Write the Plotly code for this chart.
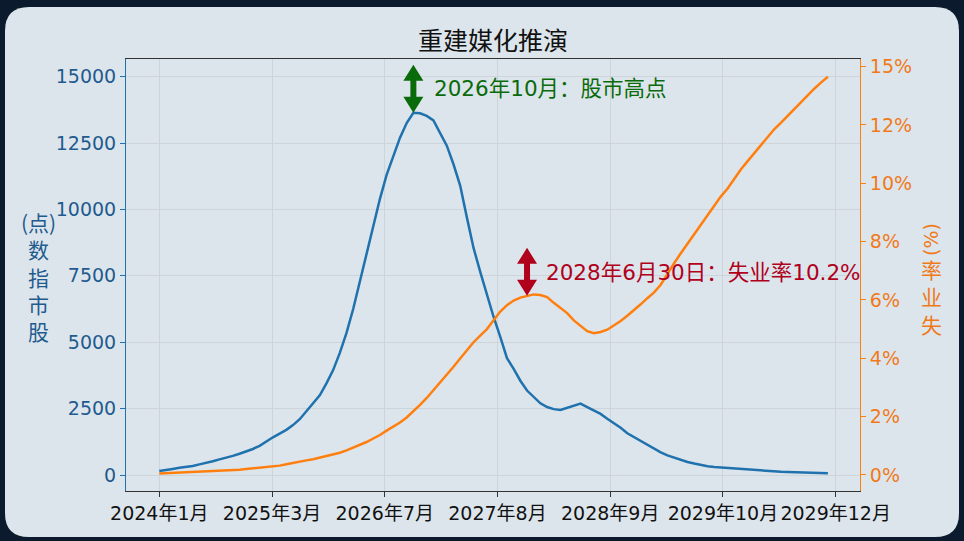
import plotly.graph_objects as go

# ---------------- data ----------------
stock_index = [150, 180, 230, 270, 300, 340, 400, 450, 520, 590,
               650, 720, 800, 890, 980, 1100, 1270, 1420, 1560, 1700,
               1880, 2100, 2400, 2700, 3000, 3450, 3950, 4600, 5350, 6250,
               7300, 8300, 9300, 10400, 11300, 12000, 12700, 13250, 13640, 13620,
               13520, 13350, 12900, 12400, 11700, 10900, 9700, 8550, 7650, 6800,
               5950, 5200, 4400, 4000, 3550, 3180, 2930, 2700, 2560, 2480,
               2450, 2530, 2620, 2690, 2560, 2440, 2300, 2120, 1960, 1780,
               1570, 1420, 1270, 1130, 1000, 850, 740, 650, 560, 490,
               430, 370, 330, 300, 280, 260, 240, 220, 200, 180,
               165, 150, 130, 120, 110, 100, 90, 85, 80, 70, 64]

unemployment = [0.05, 0.06, 0.07, 0.08, 0.08, 0.09, 0.10, 0.11, 0.12, 0.13,
                0.15, 0.17, 0.18, 0.20, 0.22, 0.24, 0.26, 0.28, 0.32, 0.37,
                0.42, 0.46, 0.50, 0.54, 0.59, 0.64, 0.69, 0.76, 0.84, 0.93,
                1.02, 1.13, 1.25, 1.37, 1.52, 1.66, 1.80, 1.97, 2.18, 2.40,
                2.64, 2.90, 3.17, 3.44, 3.71, 3.99, 4.28, 4.55, 4.78, 5.00,
                5.30, 5.60, 5.82, 5.98, 6.08, 6.14, 6.19, 6.17, 6.10, 5.90,
                5.74, 5.55, 5.30, 5.10, 4.93, 4.86, 4.90, 4.98, 5.12, 5.28,
                5.46, 5.64, 5.85, 6.06, 6.26, 6.52, 6.90, 7.26, 7.60, 7.92,
                8.23, 8.55, 8.87, 9.20, 9.55, 9.82, 10.17, 10.48, 10.76, 11.03,
                11.31, 11.58, 11.86, 12.08, 12.32, 12.55, 12.78, 13.02, 13.25, 13.46, 13.65]

period = list(range(len(stock_index)))

x_tick_labels = ["2024年1月", "2025年3月", "2026年7月", "2027年8月",
                 "2028年9月", "2029年10月", "2029年12月"]
x_tick_step = 16.86
x_tick_vals = [k * x_tick_step for k in range(len(x_tick_labels))]

y_left_ticks = [0, 2500, 5000, 7500, 10000, 12500, 15000]
y_left_labels = ["0", "2500", "5000", "7500", "10000", "12500", "15000"]
y_right_ticks = [0, 2, 4, 6, 8, 10, 12, 14]
y_right_labels = ["0%", "2%", "4%", "6%", "8%", "10%", "12%", "15%"]

title_text = "重建媒化推演"
peak_text = "2026年10月：股市高点"
unemp_text = "2028年6月30日：失业率10.2%"
unemp_idx = 55
peak_idx = max(period, key=lambda i: stock_index[i])

# ---------------- styling ----------------
W, H = 964, 541
ML, MR, MT, MB = 126, 104, 59, 50
PW, PH = W - ML - MR, H - MT - MB

BLUE = "#1f72ad"
BLUE_TXT = "#1f5b8e"
ORANGE = "#ff7f0e"
ORANGE_TXT = "#f07a1a"
GRID = "#cdd4da"
GREEN = "#0a6b0a"
RED = "#b0001c"
TICKFONT = "DejaVu Sans, Noto Sans CJK SC, sans-serif"


def px2paper_x(px):
    return (px - ML) / PW


def px2paper_y(py):
    return (H - MB - py) / PH


def rounded_panel(x0, y0, x1, y1, r):
    X = px2paper_x
    Y = px2paper_y
    p = (f"M {X(x0 + r)},{Y(y0)} L {X(x1 - r)},{Y(y0)} "
         f"Q {X(x1)},{Y(y0)} {X(x1)},{Y(y0 + r)} L {X(x1)},{Y(y1 - r)} "
         f"Q {X(x1)},{Y(y1)} {X(x1 - r)},{Y(y1)} L {X(x0 + r)},{Y(y1)} "
         f"Q {X(x0)},{Y(y1)} {X(x0)},{Y(y1 - r)} L {X(x0)},{Y(y0 + r)} "
         f"Q {X(x0)},{Y(y0)} {X(x0 + r)},{Y(y0)} Z")
    return p


ARROW_PATH = ("M 0,0 L -10,16 L -3,16 L -3,32 L -10,32 L 0,48 "
              "L 10,32 L 3,32 L 3,16 L 10,16 Z")

fig = go.Figure()
fig.add_trace(go.Scatter(x=period, y=stock_index, mode="lines",
                         line=dict(color=BLUE, width=2.5), yaxis="y",
                         showlegend=False))
fig.add_trace(go.Scatter(x=period, y=unemployment, mode="lines",
                         line=dict(color=ORANGE, width=2.5), yaxis="y2",
                         showlegend=False))

shapes = [
    dict(type="path", xref="paper", yref="paper", layer="below",
         path=rounded_panel(5, 7, 959, 537, 24),
         fillcolor="#dde5ec", line=dict(width=0)),
    dict(type="path", xref="x", yref="y", xsizemode="pixel", ysizemode="pixel",
         xanchor=period[peak_idx], yanchor=stock_index[peak_idx],
         path=ARROW_PATH, fillcolor=GREEN, line=dict(width=0)),
    dict(type="path", xref="x", yref="y2", xsizemode="pixel", ysizemode="pixel",
         xanchor=period[unemp_idx], yanchor=unemployment[unemp_idx],
         path=ARROW_PATH, fillcolor=RED, line=dict(width=0)),
]

annotations = [
    dict(x=period[peak_idx], y=stock_index[peak_idx], xref="x", yref="y",
         text=peak_text, showarrow=False, xanchor="left", yanchor="middle",
         xshift=19, yshift=24,
         font=dict(family=TICKFONT, size=21.5, color=GREEN)),
    dict(x=period[unemp_idx], y=unemployment[unemp_idx], xref="x", yref="y2",
         text=unemp_text, showarrow=False, xanchor="left", yanchor="middle",
         xshift=17, yshift=23,
         font=dict(family=TICKFONT, size=21.5, color=RED)),
    dict(x=px2paper_x(38), y=px2paper_y(276), xref="paper", yref="paper",
         text="(点)<br>数<br>指<br>市<br>股", showarrow=False,
         xanchor="center", yanchor="middle",
         font=dict(family="Noto Sans CJK SC", size=21, color=BLUE_TXT)),
    dict(x=px2paper_x(931), y=px2paper_y(240), xref="paper", yref="paper",
         text="(%)", textangle=-90, showarrow=False,
         xanchor="center", yanchor="middle",
         font=dict(family="DejaVu Sans", size=19, color=ORANGE_TXT)),
    dict(x=px2paper_x(931), y=px2paper_y(296), xref="paper", yref="paper",
         text="率<br>业<br>失", showarrow=False,
         xanchor="center", yanchor="middle",
         font=dict(family="Noto Sans CJK SC", size=21, color=ORANGE_TXT)),
]

fig.update_layout(
    width=W, height=H, autosize=False,
    margin=dict(l=ML, r=MR, t=MT, b=MB, pad=0),
    paper_bgcolor="#0b1a2d",
    plot_bgcolor="rgba(0,0,0,0)",
    title=dict(text=title_text, x=0.5, xref="paper", xanchor="center",
               y=1 - 41 / H, yref="container", yanchor="middle",
               font=dict(family="Noto Sans CJK SC", size=25, color="#111111")),
    xaxis=dict(range=[-4.98, 104.8], tickmode="array", tickvals=x_tick_vals,
               ticktext=x_tick_labels, ticks="outside", ticklen=5,
               tickangle=0,
               tickcolor="#333333", showline=True, linecolor="#333333",
               linewidth=1, mirror=True, showgrid=True, gridcolor=GRID,
               gridwidth=1, zeroline=False, automargin=False,
               tickfont=dict(family=TICKFONT, size=19, color="#111111")),
    yaxis=dict(range=[-602, 15663], tickmode="array", tickvals=y_left_ticks,
               ticktext=y_left_labels,
               ticks="outside", ticklen=5, tickcolor=BLUE, showline=True,
               linecolor=BLUE, linewidth=1, showgrid=True, gridcolor=GRID,
               gridwidth=1, zeroline=False, automargin=False,
               tickfont=dict(family=TICKFONT, size=19, color=BLUE_TXT)),
    yaxis2=dict(range=[-0.55, 14.26], overlaying="y", side="right",
                tickmode="array", tickvals=y_right_ticks,
                ticktext=y_right_labels, ticks="outside", ticklen=5,
                tickcolor=ORANGE, showline=True, linecolor=ORANGE,
                linewidth=1, showgrid=False, zeroline=False, automargin=False,
                tickfont=dict(family=TICKFONT, size=19, color=ORANGE_TXT)),
    shapes=shapes,
    annotations=annotations,
)

fig.write_html("out.html",
               config={"displayModeBar": False},
               post_script="document.body.style.margin='0';"
                           "document.body.style.overflow='hidden';")
